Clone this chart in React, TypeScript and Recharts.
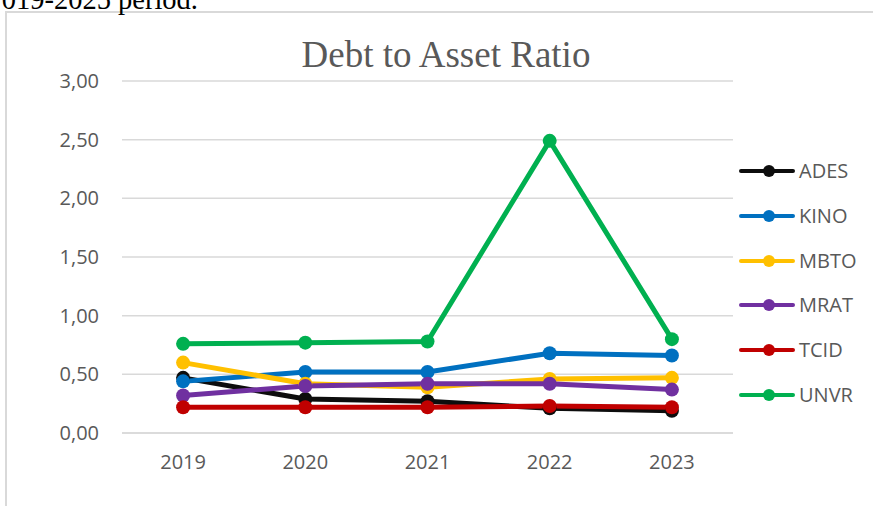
import React from 'react';
import { LineChart, Line, XAxis, YAxis, CartesianGrid } from 'recharts';

const years = ['2019', '2020', '2021', '2022', '2023'];
const ADES = [0.47, 0.29, 0.27, 0.21, 0.19];
const KINO = [0.44, 0.52, 0.52, 0.68, 0.66];
const MBTO = [0.6, 0.42, 0.39, 0.46, 0.47];
const MRAT = [0.32, 0.4, 0.42, 0.42, 0.37];
const TCID = [0.22, 0.22, 0.22, 0.23, 0.22];
const UNVR = [0.76, 0.77, 0.78, 2.49, 0.8];

const seriesNames = ['ADES', 'KINO', 'MBTO', 'MRAT', 'TCID', 'UNVR'];
const seriesValues = [ADES, KINO, MBTO, MRAT, TCID, UNVR];
const seriesColors = ['#0d0d0d', '#0070C0', '#FFC000', '#7030A0', '#C00000', '#00B050'];
const yTicks = [0, 0.5, 1, 1.5, 2, 2.5, 3];
const categoryPositions = years.map((_, i) => i + 1);
const boundaryTicks = [0.5, 1.5, 2.5, 3.5, 4.5, 5.5];

const data = years.map((year, i) => {
  const row: Record<string, number | string> = { idx: i + 1, year };
  seriesNames.forEach((n, s) => {
    row[n] = seriesValues[s][i];
  });
  return row;
});

const FONT = '"Open Sans", sans-serif';
const TEXT = '#595959';
const GRID = '#d9d9d9';

const fmt = (v: number) => v.toFixed(2).replace('.', ',');

const LegendBox = () => (
  <div style={{ position: 'absolute', left: 738, top: 149, display: 'flex', flexDirection: 'column' }}>
    {seriesNames.map((n, i) => (
      <div key={n} style={{ height: 44.7, display: 'flex', alignItems: 'center' }}>
        <svg width={58} height={16} style={{ display: 'block' }}>
          <line x1={3} y1={8} x2={55} y2={8} stroke={seriesColors[i]} strokeWidth={4} strokeLinecap="round" />
          <circle cx={31} cy={8} r={6} fill={seriesColors[i]} />
        </svg>
        <span style={{ fontFamily: FONT, fontSize: 20, color: TEXT, marginLeft: 3, lineHeight: '20px' }}>{n}</span>
      </div>
    ))}
  </div>
);

export default function App() {
  return (
    <div style={{ position: 'absolute', left: 0, top: 0, width: 873, height: 506, overflow: 'hidden', background: '#fff' }}>
      <div
        style={{
          position: 'absolute',
          left: 5,
          top: 11,
          width: 900,
          height: 520,
          borderLeft: `2px solid ${GRID}`,
          borderTop: `2px solid ${GRID}`,
        }}
      />
      <div style={{ position: 'absolute', left: 0, top: 0 }}>
        <LineChart width={873} height={506} data={data} margin={{ top: 81, right: 140, left: 62, bottom: 32 }}>
          <CartesianGrid horizontal vertical={false} stroke={GRID} strokeWidth={1.5} xAxisId="l" />
          <XAxis
            xAxisId="b"
            dataKey="idx"
            type="number"
            domain={[0.5, 5.5]}
            ticks={boundaryTicks}
            tick={false}
            tickSize={7}
            tickLine={{ stroke: GRID, strokeWidth: 1.5 }}
            axisLine={{ stroke: GRID, strokeWidth: 1.5 }}
            height={1}
            allowDataOverflow
          />
          <XAxis
            xAxisId="l"
            dataKey="idx"
            type="number"
            domain={[0.5, 5.5]}
            ticks={categoryPositions}
            tickFormatter={(v: number) => years[v - 1]}
            tickLine={false}
            axisLine={false}
            tickSize={0}
            tickMargin={21}
            height={40}
            tick={{ fill: TEXT, fontSize: 20, fontFamily: FONT }}
            allowDataOverflow
          />
          <YAxis
            domain={[0, 3]}
            ticks={yTicks}
            tickFormatter={fmt}
            axisLine={false}
            tickLine={false}
            tickSize={0}
            tickMargin={23}
            width={60}
            tick={{ fill: TEXT, fontSize: 20, fontFamily: FONT }}
            interval={0}
          />
          {seriesNames.map((n, i) => (
            <Line
              key={n}
              xAxisId="l"
              dataKey={n}
              stroke={seriesColors[i]}
              strokeWidth={5}
              dot={{ r: 7, fill: seriesColors[i], stroke: 'none' }}
              activeDot={false}
              isAnimationActive={false}
            />
          ))}
        </LineChart>
      </div>
      <LegendBox />
      <svg width={873} height={506} style={{ position: 'absolute', left: 0, top: 0, pointerEvents: 'none' }}>
        <text x={198} y={9} textAnchor="end" fontFamily='"Liberation Serif", serif' fontSize={28.5} fill="#000">
          019-2025 period.
        </text>
        <text x={446} y={67} textAnchor="middle" fontFamily='"Liberation Serif", serif' fontSize={37} fill={TEXT}>
          Debt to Asset Ratio
        </text>
      </svg>
    </div>
  );
}
